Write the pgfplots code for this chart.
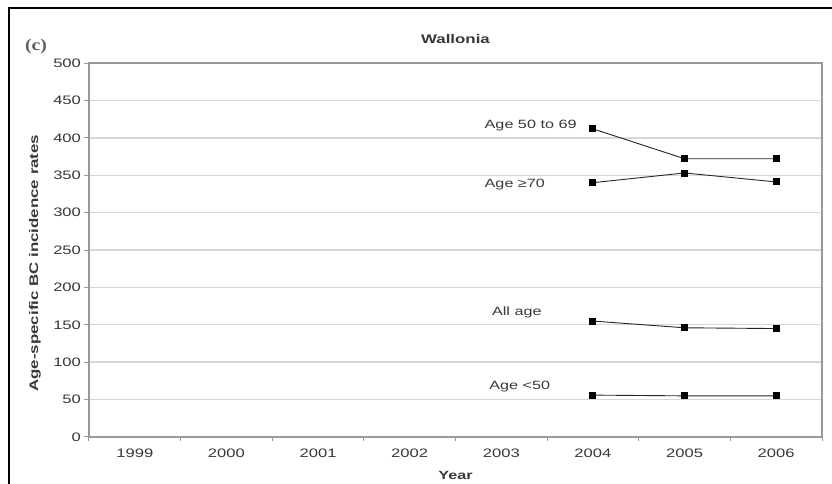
\documentclass[border=0pt]{standalone}
\usepackage{pgfplots}
\pgfplotsset{compat=1.18}
\usepackage{fontspec}
\setmainfont{Liberation Sans}[FakeStretch=1.35]
\newfontfamily\seriffont{Liberation Serif}[FakeStretch=1.2]
\definecolor{gridc}{HTML}{D6D6D6}
\definecolor{axc}{HTML}{999999}
\definecolor{txt}{HTML}{383838}
\begin{document}
\begin{tikzpicture}[x=1pt,y=1pt]
\useasboundingbox (-89,-47) rectangle (743,437);
\draw[black, line width=1.3pt] (-80,-47) -- (-80,429) -- (743,429);
\node[font=\seriffont\bfseries\fontsize{16.5}{18}\selectfont, text=txt!80] at (-53,390) {(c)};
\begin{axis}[
  at={(0,0)}, anchor=south west,
  scale only axis, width=733pt, height=374pt,
  xmin=-0.5, xmax=7.5, ymin=0, ymax=500,
  xtick={-0.5,0.5,...,7.5},
  x tick label as interval,
  xticklabels={1999,2000,2001,2002,2003,2004,2005,2006},
  ytick={0,50,...,500},
  ymajorgrids, grid style={gridc, line width=1.4pt},
  axis line style={axc, line width=1.2pt},
  tick style={axc, line width=1pt},
  tick align=outside, major tick length=4.5pt,
  xtick pos=bottom, ytick pos=left,
  ticklabel style={font=\fontsize{12.3}{14}\selectfont, text=txt},
  xticklabel style={yshift=-4pt},
  /pgf/number format/assume math mode=true,
  title={\textbf{Wallonia}}, title style={font=\fontsize{12.5}{14}\selectfont, text=txt, at={(axis description cs:0.5,1.048)}, anchor=center},
  xlabel={\textbf{Year}}, xlabel style={font=\fontsize{12}{14}\selectfont, text=txt, at={(axis description cs:0.5,-0.1016)}, anchor=center},
  ylabel={\textbf{Age-specific BC incidence rates}}, ylabel style={font=\fontsize{12.5}{14}\selectfont, text=txt, at={(axis description cs:-0.0737,0.465)}, anchor=center},
  clip=false,
]
\addplot[black!85, line width=0.9pt, mark=square*, mark size=3pt, mark options={black}] coordinates {(5,412) (6,372) (7,372)};
\addplot[black!85, line width=0.9pt, mark=square*, mark size=3pt, mark options={black}] coordinates {(5,340) (6,353) (7,341)};
\addplot[black!85, line width=0.9pt, mark=square*, mark size=3pt, mark options={black}] coordinates {(5,155) (6,146) (7,145)};
\addplot[black!85, line width=0.9pt, mark=square*, mark size=3pt, mark options={black}] coordinates {(5,56) (6,55) (7,55)};
\node[anchor=west, font=\fontsize{12}{14}\selectfont, text=txt] at (axis cs:3.78,416) {Age 50 to 69};
\node[anchor=west, font=\fontsize{12}{14}\selectfont, text=txt] at (axis cs:3.78,338) {Age ≥70};
\node[anchor=west, font=\fontsize{12}{14}\selectfont, text=txt] at (axis cs:3.86,166) {All age};
\node[anchor=west, font=\fontsize{12}{14}\selectfont, text=txt] at (axis cs:3.83,68) {Age <50};
\end{axis}
\end{tikzpicture}
\end{document}
